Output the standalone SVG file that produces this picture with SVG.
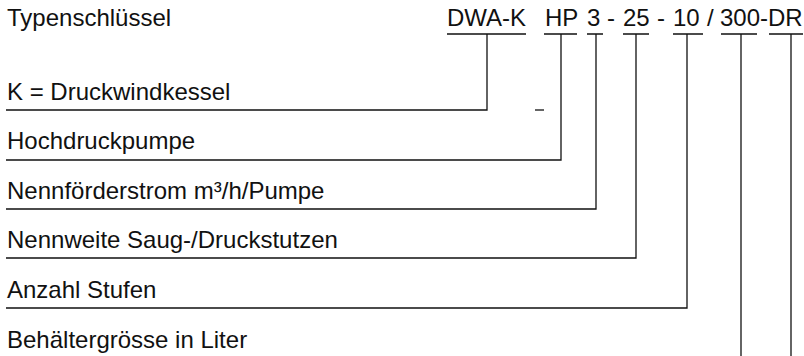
<svg xmlns="http://www.w3.org/2000/svg" width="804" height="356" viewBox="0 0 804 356">
<style>
text{font-family:"Liberation Sans",Arial,sans-serif;font-size:24px;fill:#111}
.l{stroke:#111;stroke-width:1.3;fill:none}
</style>
<rect width="804" height="356" fill="#fff"/>
<g id="title"><text x="7" y="26">Typenschlüssel</text></g>
<g id="code">
<text y="26"><tspan x="447">DWA-K</tspan><tspan x="545">HP</tspan><tspan x="587">3</tspan><tspan x="607">-</tspan><tspan x="623">25</tspan><tspan x="657">-</tspan><tspan x="673">10</tspan><tspan x="707">/</tspan><tspan x="720">300-DR</tspan></text>
<path class="l" d="M447 34H526M544 34H577M587 34H603M623 34H649M673 34H703M721 34H757M769 34H803"/>
</g>
<g id="n1"><text x="7" y="100">K = Druckwindkessel</text></g>
<g id="n2"><text x="7" y="149">Hochdruckpumpe</text></g>
<g id="n3"><text x="7" y="199">Nennförderstrom m³/h/Pumpe</text></g>
<g id="n4"><text x="7" y="248">Nennweite Saug-/Druckstutzen</text></g>
<g id="n5"><text x="7" y="298">Anzahl Stufen</text></g>
<g id="n6"><text x="7" y="348">Behältergrösse in Liter</text></g>
<g id="connectors">
<path class="l" d="M6 110H487V34"/>
<path class="l" d="M535 110H544"/>
<path class="l" d="M6 160H561V34"/>
<path class="l" d="M6 209H596V34"/>
<path class="l" d="M6 258H636V34"/>
<path class="l" d="M6 308H687V34"/>
<path class="l" d="M741 34V356"/>
<path class="l" d="M791 34V356"/>
</g>
</svg>
